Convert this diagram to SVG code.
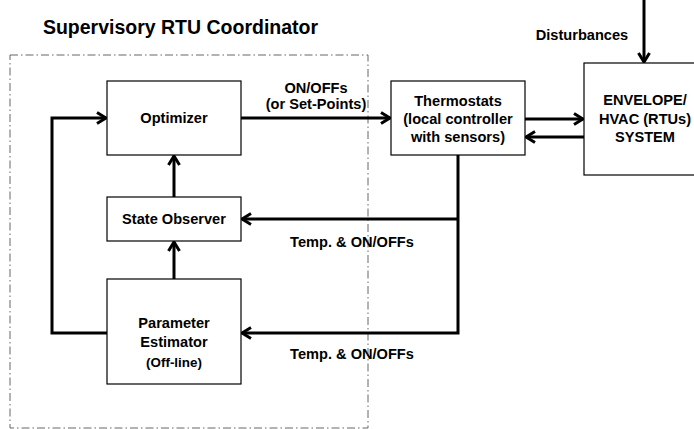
<svg xmlns="http://www.w3.org/2000/svg" width="694" height="429" viewBox="0 0 694 429">
<style>
text{font-family:"Liberation Sans",Arial,sans-serif;font-weight:bold;fill:#000;text-anchor:middle;font-size:14.6px;}
.box{fill:#fff;stroke:#000;stroke-width:1.2;}
.wire{fill:none;stroke:#000;stroke-width:3;}
.arr{marker-end:url(#ah);}
</style>
<defs>
<marker id="ah" viewBox="0 0 14 14" refX="12" refY="7" markerWidth="14" markerHeight="14" markerUnits="userSpaceOnUse" orient="auto">
<path d="M3,1.5 L12,7 L3,12.5" fill="none" stroke="#000" stroke-width="3"/>
</marker>
</defs>
<rect width="694" height="429" fill="#fff"/>
<text x="180.5" y="34" style="font-size:19.5px;">Supervisory RTU Coordinator</text>
<rect x="10" y="55" width="358" height="373" fill="none" stroke="#666" stroke-width="1" stroke-dasharray="8,3,1.5,3"/>
<g id="connectors">
<path class="wire arr" d="M107,333 L52,333 L52,118 L106,118"/>
<path class="wire arr" d="M241,118 L390,118"/>
<path class="wire arr" d="M525,119 L583,119"/>
<path class="wire arr" d="M584,137 L526,137"/>
<path class="wire arr" d="M644,0 L644,62"/>
<path class="wire arr" d="M458,155 L458,333 L242,333"/>
<path class="wire arr" d="M458,219 L242,219"/>
<path class="wire arr" d="M174,197 L174,156"/>
<path class="wire arr" d="M174,279 L174,242"/>
<text x="316" y="93">ON/OFFs</text>
<text x="316" y="109">(or Set-Points)</text>
<text x="352" y="247">Temp. &amp; ON/OFFs</text>
<text x="352" y="359">Temp. &amp; ON/OFFs</text>
<text x="582" y="40">Disturbances</text>
</g>
<g id="optimizer">
<rect class="box" x="107" y="81" width="134" height="74"/>
<text x="174" y="123">Optimizer</text>
</g>
<g id="state-observer">
<rect class="box" x="107" y="197" width="134" height="44"/>
<text x="174" y="224">State Observer</text>
</g>
<g id="parameter-estimator">
<rect class="box" x="107" y="279" width="134" height="105"/>
<text x="174" y="328">Parameter</text>
<text x="174" y="347">Estimator</text>
<text x="174" y="367" style="font-size:13.4px;">(Off-line)</text>
</g>
<g id="thermostats">
<rect class="box" x="391" y="81" width="134" height="74"/>
<text x="458" y="106">Thermostats</text>
<text x="458" y="124">(local controller</text>
<text x="458" y="142">with sensors)</text>
</g>
<g id="envelope">
<rect class="box" x="584" y="63" width="120" height="112"/>
<text x="645" y="105">ENVELOPE/</text>
<text x="645" y="124">HVAC (RTUs)</text>
<text x="645" y="142">SYSTEM</text>
</g>
</svg>
